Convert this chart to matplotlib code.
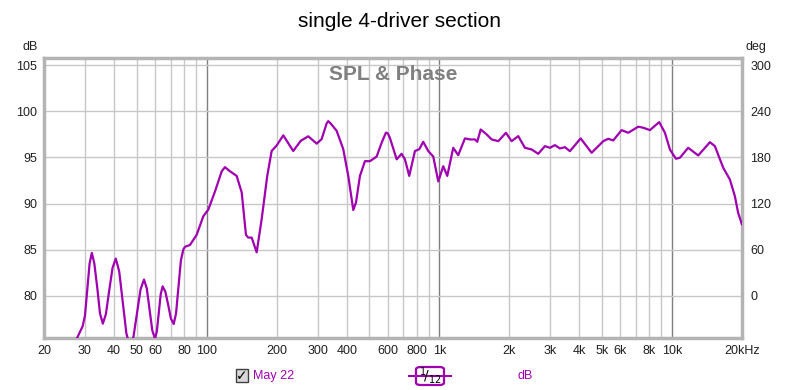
import matplotlib
matplotlib.use("Agg")
import matplotlib.pyplot as plt
from matplotlib.patches import Rectangle, FancyBboxPatch
from matplotlib.lines import Line2D

plt.rcParams["font.family"] = ["Liberation Sans", "DejaVu Sans"]

# SPL response (Hz, dB)
freq_hz = [27.5, 29.3, 30.0, 30.7, 31.4, 32.1, 32.9, 33.9, 34.8, 35.8,
           36.9, 38.1, 39.4, 40.7, 42.1, 43.6, 45.2, 46.8, 48.5, 50.2,
           52.0, 53.8, 55.3, 56.8, 58.4, 60.0, 61.1, 62.3, 63.5, 64.7,
           66.5, 68.4, 70.2, 72.2, 73.9, 75.7, 77.5, 79.4,
           80.7, 84.8, 90.6,
           96.7, 101.7, 108.6, 116.1, 119.9, 126.0, 134.6, 141.5, 147.6, 151.0,
           156.2, 164.1, 172.4, 182.2, 190.3, 200, 213.5, 235.7, 253.6, 273.4,
           297.2, 312.2, 328, 333.3, 341, 362.0, 386.6, 406.2, 426.8, 438.4,
           456.0, 479.2, 503.6, 538.0, 565.2, 589.8, 601.6, 613.8, 655.8, 688.8,
           711.8, 742.8, 785.8, 820.2, 853.2, 896.4, 942, 989.8, 1040, 1082,
           1148, 1206, 1289, 1354, 1423, 1456, 1506, 1598, 1679, 1793,
           1934, 2046, 2184, 2334, 2494, 2662, 2844, 2988, 3140, 3300,
           3468, 3642, 4050, 4516, 4902, 5066, 5322, 5592, 6076, 6486,
           7162, 7526, 8038, 8816, 9328, 9800, 10400, 10820, 11740, 12970,
           14560, 15290, 16610, 17740, 18640, 19250, 20000]
spl_db = [75.2, 76.66, 77.83, 80.65, 83.47, 84.64, 83.52, 80.8, 78.08, 76.96,
          77.99, 80.49, 83.0, 84.02, 82.63, 79.26, 75.89, 74.5, 75.56, 78.12,
          80.68, 81.74, 80.8, 78.52, 76.24, 75.3, 76.13, 78.16, 80.18, 81.01,
          80.41, 78.97, 77.52, 76.92, 78.1, 80.96, 83.82, 85.0,
          85.3, 85.5, 86.6,
          88.6, 89.35, 91.3, 93.5, 93.95, 93.5, 93.0, 91.2, 86.6, 86.3,
          86.3, 84.7, 88.3, 93.0, 95.7, 96.3, 97.4, 95.7, 96.8, 97.3,
          96.5, 97.0, 98.7, 98.95, 98.7, 97.9, 95.9, 93.0, 89.3, 90.1,
          93.0, 94.6, 94.6, 95.1, 96.6, 97.7, 97.6, 97.1, 94.8, 95.4,
          94.8, 93.0, 95.7, 95.9, 96.7, 95.7, 95.1, 92.4, 94.05, 93.0,
          96.05, 95.25, 97.07, 96.96, 96.96, 96.7, 98.04, 97.5, 96.96, 96.77,
          97.68, 96.77, 97.32, 96.05, 95.87, 95.4, 96.23, 96.05, 96.34, 95.98,
          96.12, 95.68, 97.07, 95.51, 96.41, 96.77, 97.03, 96.85, 97.97, 97.68,
          98.34, 98.23, 97.97, 98.84, 97.68, 95.87, 94.86, 94.97, 96.05, 95.22,
          96.66, 96.23, 93.88, 92.61, 90.79, 88.99, 87.72]

x_ticks = [20, 30, 40, 50, 60, 80, 100, 200, 300, 400, 600, 800,
           1000, 2000, 3000, 4000, 5000, 6000, 8000, 10000, 20000]
x_labels = ["20", "30", "40", "50", "60", "80", "100", "200", "300", "400",
            "600", "800", "1k", "2k", "3k", "4k", "5k", "6k", "8k", "10k", "20kHz"]
db_ticks = [80, 85, 90, 95, 100, 105]
deg_ticks = [0, 60, 120, 180, 240, 300]

LINE = "#a000b0"
GRID = "#c8c8c8"
DECADE = "#7f7f7f"
TXT = "#202020"

fig = plt.figure(figsize=(8, 3.9), dpi=100)
ax = fig.add_axes([0.055, 0.1333, 0.8725, 0.718])
ax.set_xscale("log")
ax.set_xlim(20, 20000)
ax.set_ylim(75.4, 105.8)

# grid: every 1..9 per decade, decade lines darker
minor = [m * 10 ** e for e in range(1, 5) for m in range(1, 10) if 20 <= m * 10 ** e <= 20000]
for f in minor:
    dec = f in (100, 1000, 10000)
    ax.axvline(f, color=DECADE if dec else GRID, lw=1.0, zorder=1)
for y in db_ticks:
    ax.axhline(y, color=GRID, lw=1.0, zorder=1)

ax.plot(freq_hz, spl_db, color=LINE, lw=1.6, solid_joinstyle="round",
        solid_capstyle="round", zorder=3)

ax.set_xticks(x_ticks)
ax.set_xticklabels(x_labels)
ax.xaxis.set_minor_locator(matplotlib.ticker.NullLocator())
ax.set_yticks(db_ticks)
ax.tick_params(axis="both", length=0, labelsize=9, colors=TXT, pad=5)
for s in ax.spines.values():
    s.set_color("#b4b4b4")
    s.set_linewidth(2.5)

ax2 = ax.twinx()
ax2.set_ylim((75.4 - 80) * 12, (105.8 - 80) * 12)
ax2.set_yticks(deg_ticks)
ax2.tick_params(axis="y", length=0, labelsize=9, colors=TXT, pad=6)
for s in ax2.spines.values():
    s.set_visible(False)

fig.text(0.5, 0.945, "single 4-driver section", ha="center", va="center", fontsize=15, color="black")
ax.text(0.5, 0.94, "SPL & Phase", transform=ax.transAxes, ha="center", va="center",
        fontsize=15, fontweight="bold", color="#808080", zorder=4)
fig.text(0.038, 0.88, "dB", ha="center", va="center", fontsize=9, color=TXT)
fig.text(0.945, 0.88, "deg", ha="center", va="center", fontsize=9, color=TXT)

# legend strip below the chart
fig.patches.append(Rectangle((236 / 800, 1 - 382 / 390), 12 / 800, 13 / 390,
                             transform=fig.transFigure, facecolor="#d8d8d8",
                             edgecolor="#404040", lw=1.0))
fig.text(242 / 800, 1 - 376 / 390, "✓", ha="center", va="center", fontsize=10,
         color="black", family=["DejaVu Sans"])
fig.text(253 / 800, 1 - 376 / 390, "May 22", ha="left", va="center", fontsize=9, color=LINE)
fig.lines.append(Line2D([409 / 800, 451 / 800], [1 - 376 / 390] * 2,
                        transform=fig.transFigure, color=LINE, lw=1.5))
fig.patches.append(FancyBboxPatch((416 / 800, 1 - 385 / 390), 28 / 800, 18 / 390,
                                  boxstyle="round,pad=0,rounding_size=0.006",
                                  transform=fig.transFigure, facecolor="white",
                                  edgecolor=LINE, lw=1.6))
fig.text(430 / 800, 1 - 376 / 390, r"$^{1}\!/_{12}$", ha="center", va="center",
         fontsize=10, color="black")
fig.text(525 / 800, 1 - 376 / 390, "dB", ha="center", va="center", fontsize=9, color=LINE)

fig.savefig("out.png", dpi=100)
